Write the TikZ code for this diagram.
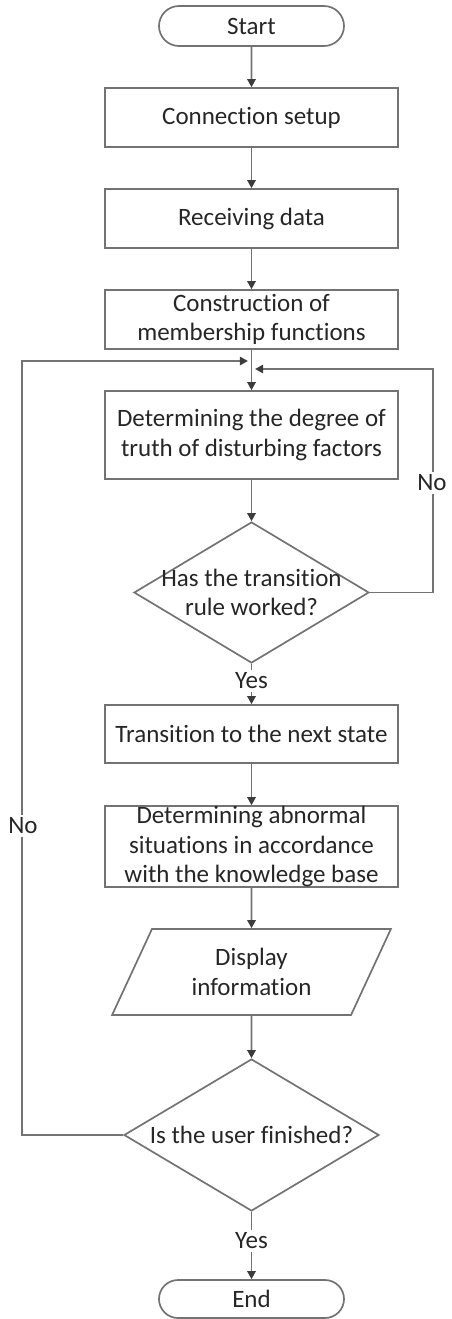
\documentclass[tikz,border=0pt]{standalone}
\usepackage{fontspec}
\setmainfont[Ligatures=NoCommon]{Carlito}
\usetikzlibrary{shapes.geometric,shapes.misc,arrows.meta}
\definecolor{linegray}{RGB}{115,115,115}
\definecolor{tipgray}{RGB}{60,60,60}
\definecolor{textgray}{RGB}{38,38,38}
\begin{document}
\begin{tikzpicture}[x=0.5pt,y=-0.5pt,
  every node/.style={text=textgray,font=\fontsize{12.5}{14.8}\selectfont,align=center},
  proc/.style={draw=linegray,line width=0.85pt,rectangle,minimum width=146.5pt,inner sep=0pt},
  term/.style={draw=linegray,line width=0.85pt,rounded rectangle,minimum width=92.5pt,inner sep=0pt},
  decide/.style={draw=linegray,line width=0.85pt,diamond,inner sep=0pt},
  io/.style={draw=linegray,line width=0.85pt,trapezium,trapezium left angle=63,
    trapezium right angle=117,trapezium stretches=true,inner sep=0pt},
  flow/.style={draw=linegray,line width=0.85pt,-{Triangle[length=4pt,width=4.2pt,color=tipgray]}},
  tag/.style={fill=white,inner sep=1.5pt}]
\useasboundingbox (0,0) rectangle (451,1319);

% process chain
\node[term,minimum height=20pt] (start) at (251.5,26) {Start};
\node[proc,minimum height=29.5pt] (conn) at (251.5,117.5) {Connection setup};
\node[proc,minimum height=29.5pt] (recv) at (251.5,218.5) {Receiving data};
\node[proc,minimum height=29.5pt] (cons) at (251.5,319.5) {Construction of\\membership functions};
\node[proc,minimum height=44pt] (degr) at (251.5,435) {Determining the degree of\\truth of disturbing factors};
\node[decide,minimum width=117.5pt,minimum height=70.5pt,
  label={[name=q1text]center:Has the transition\\rule worked?}] (q1) at (251.5,592.5) {};
\node[proc,minimum height=29pt] (trans) at (251.5,734) {Transition to the next state};
\node[proc,minimum height=40.5pt] (abn) at (251.5,846.5) {Determining abnormal\\situations in accordance\\with the knowledge base};
\node[io,minimum width=139.5pt,minimum height=43pt] (disp) at (251.5,972) {Display\\information};
\node[decide,minimum width=127.5pt,minimum height=76pt,
  label={[name=q2text]center:Is the user finished?}] (q2) at (251.5,1135) {};
\node[term,minimum height=19pt] (stop) at (251.5,1299) {End};

% merge points above the degree-of-truth step
\coordinate (jl) at (251.5,361);
\coordinate (jr) at (251.5,369);

% straight connectors
\draw[flow] (start) -- (conn);
\draw[flow] (conn) -- (recv);
\draw[flow] (recv) -- (cons);
\draw[flow] (cons) -- (degr);
\draw[flow] (degr) -- (q1);
\draw[flow] (q1.south) -- (trans.north);
\draw[flow] (trans) -- (abn);
\draw[flow] (abn) -- (disp.north);
\draw[flow] (disp.south) -- (q2.north);
\draw[flow] (q2.south) -- (stop.north);

% loops back
\draw[flow,shorten >=1.8pt] (q1.east) -- ++(63,0) |- (jr);
\draw[flow,shorten >=1.8pt] (q2.west) -- ++(-101,0) |- (jl);

% branch labels
\node[tag] (yes1) at (251.5,681) {Yes};
\node[tag] (yes2) at (251.5,1241) {Yes};
\node[tag] (no1) at (432,483) {No};
\node[tag] (no2) at (23,826) {No};
\end{tikzpicture}
\end{document}
